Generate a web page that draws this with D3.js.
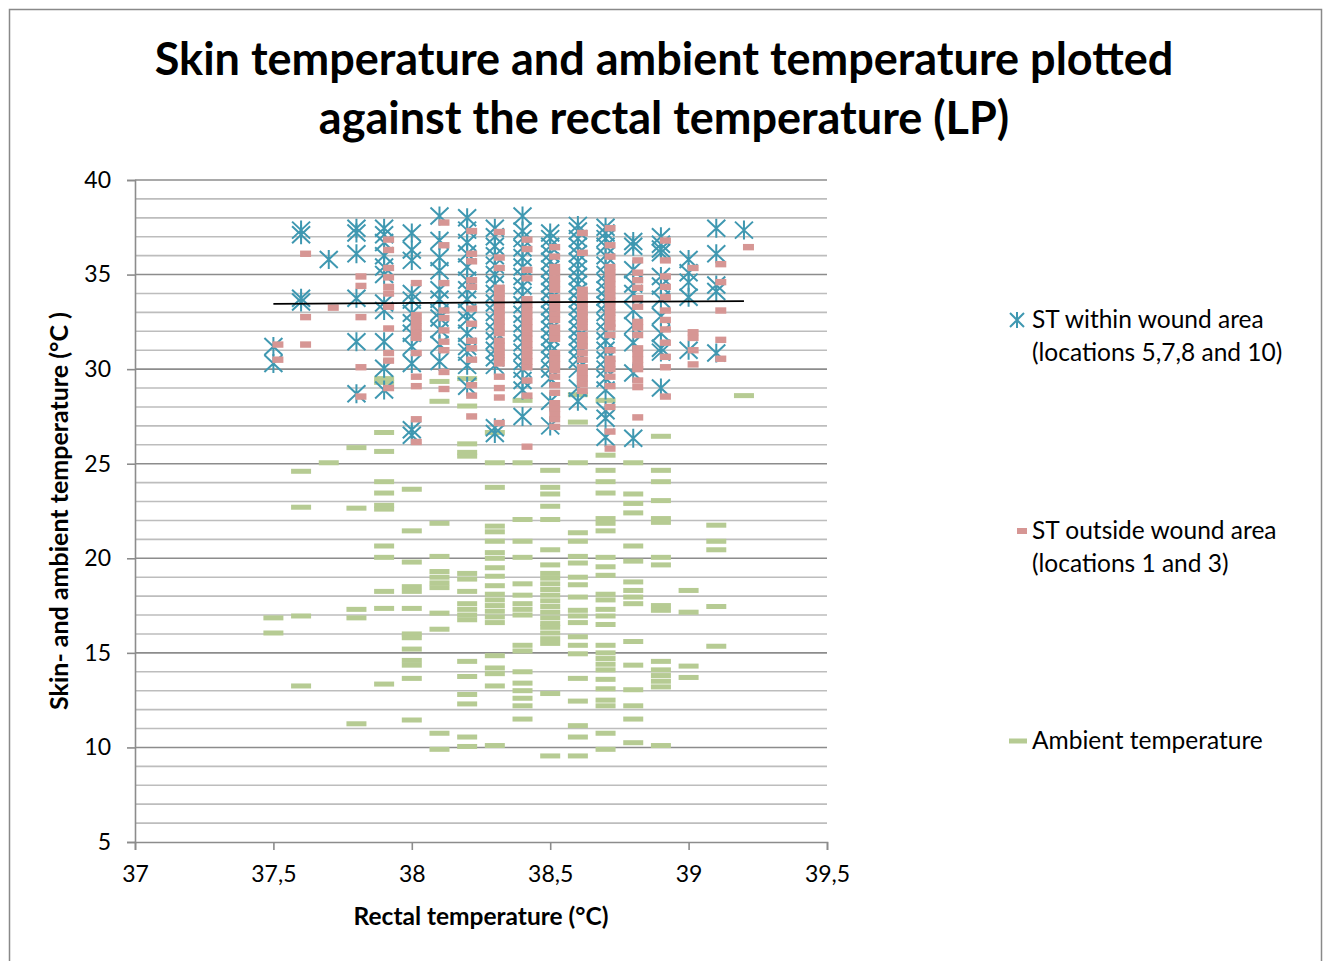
<!DOCTYPE html>
<meta charset="utf-8">
<style>
  body { margin: 0; background: #fff; }
  text { font-family: Lato, "Open Sans", sans-serif; fill: #000; }
</style>
<body>
<script src="https://d3js.org/d3.v7.min.js"></script>
<script>

// rectal temperature columns (x)
var rectal = [37.5, 37.6, 37.7, 37.8, 37.9, 38.0, 38.1, 38.2, 38.3, 38.4, 38.5, 38.6, 38.7, 38.8, 38.9, 39.0, 39.1, 39.2];

// ST within wound area, one list per rectal column
var stWithin = [
  [31.2, 30.3],
  [37.35, 37.1, 33.75, 33.55],
  [35.8],
  [37.45, 37.2, 36.1, 33.75, 31.45, 28.7],
  [37.45, 37.1, 36.7, 36.0, 35.4, 35.0, 33.5, 33.1, 31.45, 30.05, 28.9],
  [37.2, 36.3, 35.75, 34.0, 33.65, 32.95, 32.45, 31.9, 31.2, 30.3, 26.8, 26.5],
  [38.1, 36.8, 35.9, 35.2, 34.2, 33.7, 33.0, 32.7, 32.1, 31.3, 30.4],
  [38.0, 37.35, 36.7, 36.1, 35.4, 34.7, 34.2, 33.7, 33.0, 32.6, 31.9, 31.2, 30.9, 30.2, 29.1],
  [37.45, 37.0, 36.5, 36.0, 35.5, 35.0, 34.5, 34.0, 33.5, 33.0, 32.5, 32.0, 31.5, 31.0, 30.6, 30.2, 26.9, 26.6],
  [38.1, 37.3, 36.9, 36.4, 35.9, 35.4, 34.9, 34.4, 33.9, 33.4, 32.9, 32.4, 31.9, 31.4, 30.9, 30.4, 30.0, 29.4, 28.9, 27.5],
  [37.2, 36.9, 36.5, 36.1, 35.7, 35.3, 34.9, 34.5, 34.1, 33.7, 33.3, 32.9, 32.5, 32.1, 31.7, 31.3, 30.9, 30.5, 30.0, 29.5, 28.3, 27.0],
  [37.6, 37.3, 36.9, 36.5, 36.1, 35.7, 35.3, 34.9, 34.5, 34.1, 33.7, 33.3, 32.9, 32.5, 32.1, 31.7, 31.3, 30.9, 30.5, 30.0, 29.0, 28.3],
  [37.5, 37.2, 36.9, 36.5, 36.0, 35.5, 35.0, 34.6, 34.2, 33.8, 33.4, 33.0, 32.5, 32.0, 31.5, 31.0, 30.5, 30.0, 29.5, 28.9, 27.8, 27.4, 26.4],
  [36.75, 36.5, 35.25, 34.5, 34.0, 33.1, 32.3, 31.4, 29.8, 26.35],
  [37.0, 36.6, 36.35, 36.15, 34.9, 34.4, 33.7, 32.8, 31.9, 31.1, 30.9, 29.0],
  [35.8, 35.1, 34.6, 33.8, 31.0],
  [37.45, 36.1, 34.45, 34.1, 30.85],
  [37.35]
];

// ST outside wound area
var stOutside = [
  [31.3, 30.5],
  [36.1, 32.75, 31.3],
  [33.25],
  [34.9, 34.4, 32.75, 30.1, 28.55],
  [36.85, 36.3, 35.35, 34.85, 34.35, 34.0, 33.3, 32.15, 30.85, 30.45, 29.0],
  [34.55, 32.85, 32.55, 32.25, 31.95, 31.65, 30.85, 29.6, 29.1, 27.35, 26.15],
  [37.75, 36.55, 34.55, 33.1, 32.7, 32.05, 31.45, 31.0, 29.85, 28.95],
  [37.3, 36.1, 35.7, 34.7, 34.35, 33.2, 32.4, 31.5, 31.1, 30.5, 29.15, 28.6, 27.5],
  [37.25, 35.9, 35.35, 34.3, 34.0, 33.7, 33.4, 33.1, 32.8, 32.5, 32.2, 31.9, 31.5, 31.2, 30.9, 30.6, 30.3, 29.6, 29.0, 28.5, 27.15],
  [36.85, 36.35, 35.25, 34.8, 33.7, 33.4, 33.1, 32.8, 32.5, 32.2, 31.9, 31.6, 31.3, 31.0, 30.7, 30.4, 30.1, 29.4, 28.6, 25.9],
  [36.45, 35.95, 35.4, 35.1, 34.8, 34.5, 34.2, 33.8, 33.5, 33.2, 32.9, 32.6, 32.2, 31.9, 31.6, 30.85, 30.55, 30.25, 29.95, 29.6, 29.15, 28.75, 28.2, 27.9, 27.6, 27.35, 26.95],
  [37.2, 36.15, 34.2, 33.9, 33.6, 33.3, 33.0, 32.75, 32.5, 32.2, 31.8, 31.5, 31.2, 30.85, 30.5, 30.1, 29.8, 29.5, 29.2, 28.85],
  [37.45, 36.55, 35.95, 35.4, 35.1, 34.8, 34.5, 34.2, 33.9, 33.6, 33.3, 33.0, 32.7, 32.4, 32.2, 31.8, 31.0, 30.55, 30.3, 30.0, 29.6, 29.1, 28.0, 26.7, 25.8],
  [35.75, 35.1, 34.7, 34.3, 33.75, 33.3, 32.5, 32.2, 31.8, 31.1, 30.8, 30.5, 30.2, 30.0, 29.4, 29.05, 27.45],
  [36.8, 35.75, 34.9, 34.35, 33.8, 33.1, 32.6, 32.1, 31.4, 30.65, 30.1, 28.55],
  [35.35, 31.95, 31.65, 31.0, 30.25],
  [35.55, 34.6, 33.1, 31.55, 30.55],
  [36.45]
];

// ambient temperature
var ambient = [
  [16.85, 16.05],
  [24.6, 22.7, 16.95, 13.25],
  [25.05],
  [25.85, 22.65, 17.3, 16.85, 11.25],
  [29.5, 29.3, 26.65, 25.65, 24.05, 23.45, 22.8, 22.6, 20.65, 20.05, 18.25, 17.35, 13.35],
  [23.65, 21.45, 19.8, 18.5, 18.25, 17.35, 16.0, 15.8, 15.2, 14.6, 14.35, 13.65, 11.45],
  [29.35, 28.3, 21.85, 20.1, 19.3, 19.0, 18.7, 18.45, 17.1, 16.25, 10.75, 9.9],
  [29.5, 28.05, 26.05, 25.6, 25.4, 19.2, 18.9, 18.25, 17.6, 17.3, 17.0, 16.75, 14.55, 13.75, 12.8, 12.3, 10.55, 10.05],
  [26.65, 25.05, 23.75, 21.7, 21.4, 20.9, 20.3, 20.0, 19.5, 19.05, 18.55, 18.1, 17.8, 17.5, 17.2, 16.9, 16.6, 14.85, 14.2, 13.9, 13.25, 10.1],
  [28.35, 25.05, 22.05, 20.9, 20.05, 18.65, 18.05, 17.6, 17.3, 17.0, 15.4, 15.1, 14.0, 13.4, 13.0, 12.6, 12.2, 11.5],
  [24.65, 23.75, 23.4, 22.75, 22.05, 20.45, 19.65, 19.2, 18.95, 18.65, 18.35, 18.05, 17.75, 17.45, 17.15, 16.85, 16.55, 16.35, 16.05, 15.75, 15.5, 12.85, 9.55],
  [28.65, 27.2, 25.05, 21.35, 20.9, 20.1, 19.75, 19.0, 18.6, 17.95, 17.25, 16.95, 16.6, 15.85, 15.4, 14.95, 13.65, 12.45, 11.15, 10.55, 9.55],
  [28.35, 25.45, 24.65, 24.05, 23.45, 22.1, 21.85, 21.45, 20.05, 19.55, 19.1, 18.1, 17.8, 17.3, 16.95, 16.5, 15.4, 15.0, 14.7, 14.4, 14.1, 13.6, 13.1, 12.5, 12.2, 10.75, 9.9],
  [25.05, 23.4, 22.9, 22.4, 20.65, 19.85, 18.75, 18.3, 17.95, 17.6, 15.6, 14.35, 13.05, 12.2, 11.5, 10.25],
  [26.45, 24.65, 24.05, 23.05, 22.1, 21.9, 20.05, 19.65, 17.5, 17.25, 14.55, 14.1, 13.8, 13.5, 13.2, 10.1],
  [18.3, 17.15, 14.3, 13.7],
  [21.75, 20.9, 20.45, 17.45, 15.35],
  [28.6]
];

// linear trendline of skin temperature
var trendX = [37.5, 39.2];
var trendY = [33.45, 33.6];

var xTicks = [37, 37.5, 38, 38.5, 39, 39.5];
var yTicks = [5, 10, 15, 20, 25, 30, 35, 40];
var legendLabels = [
  ["ST within wound area", "(locations 5,7,8 and 10)"],
  ["ST outside wound area", "(locations 1 and 3)"],
  ["Ambient temperature"]
];

var width = 1327, height = 961;
var colWithin = "#3f98b1", colOutside = "#d69694", colAmbient = "#b6cb93";

var svg = d3.select("body").append("svg")
    .attr("width", width)
    .attr("height", height);

// chart border
svg.append("rect")
    .attr("x", 9.5).attr("y", 9.5)
    .attr("width", 1312).attr("height", 970)
    .attr("fill", "#fff")
    .attr("stroke", "#898989")
    .attr("stroke-width", 1.5);

var x = d3.scaleLinear().domain([37, 39.5]).range([135, 827]);
var y = d3.scaleLinear().domain([5, 40]).range([842, 180]);

// gridlines
var grid = svg.append("g");
grid.selectAll("line")
  .data(d3.range(6, 41))
  .enter().append("line")
    .attr("x1", x(37)).attr("x2", x(39.5))
    .attr("y1", function(d) { return y(d); })
    .attr("y2", function(d) { return y(d); })
    .attr("stroke", function(d) { return d % 5 === 0 ? "#8c8c8c" : "#bdbdbd"; })
    .attr("stroke-width", 1.6);

// axes
var yAxis = d3.axisLeft(y).tickValues(yTicks).tickSize(8).tickPadding(16)
    .tickFormat(d3.format("d"));
var xAxis = d3.axisBottom(x).tickValues(xTicks).tickSize(8).tickPadding(16)
    .tickFormat(function(d) { return String(d).replace(".", ","); });

var gy = svg.append("g").attr("transform", "translate(" + x(37) + ",0)").call(yAxis);
var gx = svg.append("g").attr("transform", "translate(0," + y(5) + ")").call(xAxis);
[gx, gy].forEach(function(g) {
  g.select(".domain").attr("stroke", "#8c8c8c").attr("stroke-width", 1.6);
  g.selectAll(".tick line").attr("stroke", "#8c8c8c").attr("stroke-width", 1.6);
  g.selectAll(".tick text").attr("font-size", 23).attr("font-family", "Lato, sans-serif").attr("fill", "#000");
});

function flatten(series) {
  var pts = [];
  series.forEach(function(col, i) {
    col.forEach(function(v) { pts.push({x: rectal[i], y: v}); });
  });
  return pts;
}

var starPath = "M-9,-8.5L9,8.5M-9,8.5L9,-8.5M0,-9.5L0,9.5";

// ambient dashes
svg.append("g").selectAll("rect")
  .data(flatten(ambient))
  .enter().append("rect")
    .attr("x", function(d) { return x(d.x) - 10; })
    .attr("y", function(d) { return y(d.y) - 2.5; })
    .attr("width", 20).attr("height", 5)
    .attr("fill", colAmbient);

// ST within stars
svg.append("g").selectAll("path")
  .data(flatten(stWithin))
  .enter().append("path")
    .attr("transform", function(d) { return "translate(" + x(d.x) + "," + y(d.y) + ")"; })
    .attr("d", starPath)
    .attr("fill", "none")
    .attr("stroke", colWithin)
    .attr("stroke-width", 2);

// ST outside dashes (drawn slightly right of the column like the original)
svg.append("g").selectAll("rect")
  .data(flatten(stOutside))
  .enter().append("rect")
    .attr("x", function(d) { return x(d.x) - 1; })
    .attr("y", function(d) { return y(d.y) - 3.2; })
    .attr("width", 11).attr("height", 6.4)
    .attr("fill", colOutside);

// trendline
svg.append("line")
    .attr("x1", x(trendX[0])).attr("y1", y(trendY[0]))
    .attr("x2", x(trendX[1])).attr("y2", y(trendY[1]))
    .attr("stroke", "#000")
    .attr("stroke-width", 1.8);

// title
var title = svg.append("text")
    .attr("text-anchor", "middle")
    .attr("font-size", 45)
    .attr("font-weight", "bold");
title.append("tspan").attr("x", 664).attr("y", 75).text("Skin temperature and ambient temperature plotted");
title.append("tspan").attr("x", 664).attr("y", 134).text("against the rectal temperature (LP)");

// axis titles
svg.append("text")
    .attr("x", (x(37) + x(39.5)) / 2).attr("y", 925)
    .attr("text-anchor", "middle")
    .attr("font-size", 24.5).attr("font-weight", "bold")
    .text("Rectal temperature (°C)");

svg.append("text")
    .attr("transform", "translate(68," + (y(5) + y(40)) / 2 + ") rotate(-90)")
    .attr("text-anchor", "middle")
    .attr("font-size", 25).attr("font-weight", "bold")
    .text("Skin- and ambient temperature (°C )");

// legend
var legendY = [320, 531, 741];
var leg = svg.append("g");
legendLabels.forEach(function(lines, i) {
  var g = leg.append("g").attr("transform", "translate(1017," + legendY[i] + ")");
  if (i === 0) {
    g.append("path").attr("d", "M-7,-7L7,7M-7,7L7,-7M0,-8L0,8")
      .attr("stroke", colWithin).attr("stroke-width", 2).attr("fill", "none");
  } else if (i === 1) {
    g.append("rect").attr("x", 0).attr("y", -3).attr("width", 10).attr("height", 6).attr("fill", colOutside);
  } else {
    g.append("rect").attr("x", -8).attr("y", -2.5).attr("width", 18).attr("height", 5).attr("fill", colAmbient);
  }
  var t = g.append("text").attr("font-size", 24.5);
  lines.forEach(function(s, k) {
    t.append("tspan").attr("x", 15).attr("y", 8 + k * 33).text(s);
  });
});

</script>
</body>
